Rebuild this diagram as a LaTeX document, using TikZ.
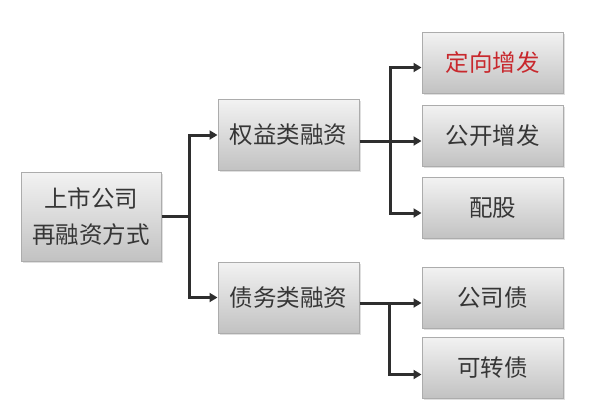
\documentclass[tikz,border=0pt]{standalone}
\usepackage{fontspec}
\setmainfont{Noto Sans CJK SC}
\usepackage{tikz}
\usetikzlibrary{shapes,arrows,arrows.meta,positioning,shadows}
\definecolor{txtgray}{HTML}{363636}
\definecolor{boxred}{HTML}{C8282D}
\definecolor{linegray}{HTML}{2E2E2E}
\tikzstyle{box} = [rectangle, draw=gray!65, line width=1pt, top color=white!95!black, bottom color=white!76!black, drop shadow={opacity=0.25, shadow xshift=1.5pt, shadow yshift=-1.5pt}, text=txtgray, font=\fontsize{23.5}{36}\selectfont]
\tikzstyle{mbox} = [minimum width=141pt, minimum height=71pt]
\tikzstyle{rbox} = [minimum width=141pt, minimum height=61pt]
\tikzstyle{line} = [draw=linegray, line width=3pt]
\tikzstyle{arrow} = [line, -{Triangle[length=8pt, width=9pt]}]

\begin{document}
\begin{tikzpicture}[x=1pt, y=-1pt]
			\useasboundingbox (0,0) rectangle (610,405);
			\node [box, minimum width=140pt, minimum height=89pt, align=center] (root) at (91, 216.5) {上市公司\\再融资方式};
			\node [box, mbox] (equity) at (288.5, 135) {权益类融资};
			\node [box, mbox] (debt) at (288.5, 297.5) {债务类融资};
			\node [box, rbox, text=boxred] (dxzf) at (492.5, 62.5) {定向增发};
			\node [box, rbox] (gkzf) at (492.5, 135.5) {公开增发};
			\node [box, rbox] (pg) at (492.5, 208) {配股};
			\node [box, rbox] (gsz) at (492.5, 297.5) {公司债};
			\node [box, rbox] (kzz) at (492.5, 367.5) {可转债};

			\coordinate (f1) at (189, 216.5);
			\coordinate (f2) at (390, 141);
			\coordinate (f3) at (389, 303);

			\path [line] (root) -- (f1);
			\path [arrow] (f1) |- (equity);
			\path [arrow] (f1) |- (debt);
			\path [line] (equity.east |- f2) -- (f2);
			\path [arrow] (f2) |- ([yshift=-5pt]dxzf.west);
			\path [arrow] (f2) -- (gkzf.west |- f2);
			\path [arrow] (f2) |- ([yshift=-5pt]pg.west);
			\path [line] (debt.east |- f3) -- (f3);
			\path [arrow] (f3) -- (gsz.west |- f3);
			\path [arrow] (f3) |- ([yshift=-7pt]kzz.west);
		\end{tikzpicture}
\end{document}
